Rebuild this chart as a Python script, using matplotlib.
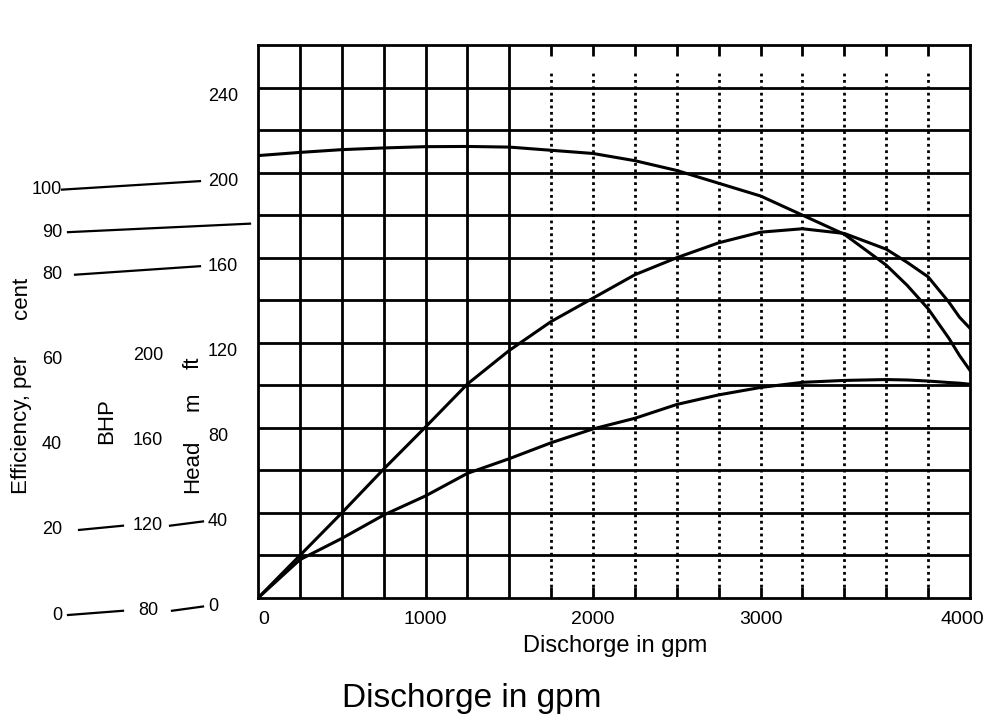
import numpy as np
import matplotlib
matplotlib.use('Agg')
import matplotlib.pyplot as plt
from matplotlib import transforms

plt.rcParams['font.family'] = ['Liberation Sans', 'DejaVu Sans']

# values (discharge in gpm)
flow = [0, 250, 500, 750, 1000, 1250, 1500, 1750, 2000, 2250, 2500, 2750,
        3000, 3200, 3400, 3600, 3700, 3800, 3900, 3950, 4000]
head_ft = [208, 209.5, 210.8, 211.6, 212.2, 212.3, 212, 210.5, 209, 205.6, 201, 195,
           189, 180, 171, 156.5, 147, 136, 122, 114, 107]
eff_pct = [0, 10, 20, 30.3, 40.2, 50.3, 58.2, 65, 70.5, 76, 80, 83.5,
           86, 86.8, 85.7, 82, 78.9, 75.5, 69.5, 66, 63.4]
bhp = [80, 98, 108, 119, 128, 138.6, 145.5, 153, 159.5, 164.5, 171, 175.5,
       179, 181.4, 182.3, 182.7, 182.5, 182, 181.3, 181, 180.5]

# scale labels on the left
eff_ticks = [0, 20, 40, 60, 80, 90, 100]
bhp_ticks = [80, 120, 160, 200]
head_ticks = [0, 40, 80, 120, 160, 200, 240]
x_ticks = [0, 1000, 2000, 3000, 4000]

# chart paper
grid_solid = [250, 500, 750, 1000, 1250, 1500]
grid_dotted = [1750, 2000, 2250, 2500, 2750, 3000, 3200, 3400, 3600, 3800]
grid_rows = list(range(20, 260, 20))

W, H = 987, 720


def eff_to_ft(e):
    return np.asarray(e, float) * 2.0


def bhp_to_ft(b):
    return np.asarray(b, float) - 80.0


# last 1000 gpm of the paper is ruled in 200 gpm columns
def fwd(x):
    x = np.asarray(x, float)
    return np.where(x <= 3000, x, 3000 + (x - 3000) * 1.25)


def inv(y):
    y = np.asarray(y, float)
    return np.where(y <= 3000, y, 3000 + (y - 3000) / 1.25)


fig = plt.figure(figsize=(W / 100, H / 100), dpi=100)
ax = fig.add_axes([258 / W, 1 - 598 / H, (970 - 258) / W, (598 - 45) / H])
ax.set_xscale('function', functions=(fwd, inv))
ax.set_xlim(0, 4000)
ax.set_ylim(0, 260)

lw = 2.0
for s in ax.spines.values():
    s.set_linewidth(lw)

ax.hlines(grid_rows, 0, 4000, colors='black', lw=lw)
ax.vlines(grid_solid, 0, 260, colors='black', lw=lw)
ax.vlines(grid_dotted, 5, 248, colors='black', lw=lw, linestyles=(0, (1, 1.3)))

ax.plot(flow, head_ft, color='black', lw=2.2)
ax.plot(flow, eff_to_ft(eff_pct), color='black', lw=2.2)
ax.plot(flow, bhp_to_ft(bhp), color='black', lw=2.2)

ax.set_yticks([])
ax.set_xticks(x_ticks)
ax.set_xticklabels([str(v) for v in x_ticks], fontsize=14)
ax.xaxis.set_minor_locator(matplotlib.ticker.FixedLocator(grid_dotted))
ax.xaxis.remove_overlapping_locs = False
ax.tick_params(axis='x', which='major', length=0, pad=9)
ax.tick_params(axis='x', which='minor', direction='in', length=8, width=lw,
               top=True, bottom=True)
labels = ax.get_xticklabels()
labels[0].set_horizontalalignment('left')
labels[-1].set_transform(labels[-1].get_transform() +
                         transforms.ScaledTranslation(-0.08, 0, fig.dpi_scale_trans))

# left hand scales
tr = transforms.blended_transform_factory(fig.transFigure, ax.transData)
eff_y = {e: eff_to_ft(e) - 8 for e in eff_ticks}
bhp_y = {b: bhp_to_ft(b) - 6 for b in bhp_ticks}
head_y = {h: h - 4 for h in head_ticks}

for e in eff_ticks:
    ax.text(62 / W, eff_y[e], str(e), transform=tr, ha='right', va='center',
            fontsize=13, clip_on=False)
for b in bhp_ticks:
    ax.text(148 / W, bhp_y[b], str(b), transform=tr, ha='center', va='center',
            fontsize=13, clip_on=False)
for h in head_ticks:
    ax.text(208 / W, head_y[h], str(h), transform=tr, ha='left', va='center',
            fontsize=13, clip_on=False)


def link(x0, y0, x1, y1):
    ax.plot([x0 / W, x1 / W], [y0, y1], color='black', lw=1.6,
            transform=tr, clip_on=False)


link(68, eff_y[0], 123, bhp_y[80])
link(172, bhp_y[80], 203, head_y[0])
link(79, eff_y[20], 123, bhp_y[120])
link(170, bhp_y[120], 203, head_y[40])
link(75, eff_y[80], 200, head_y[160])
link(68, eff_y[90], 250, eff_to_ft(90) - 4)
link(62, eff_y[100], 200, head_y[200])

fig.text(22 / W, 1 - 425 / H, 'Efficiency, per', rotation=90, ha='center',
         va='center', fontsize=16)
fig.text(22 / W, 1 - 298 / H, 'cent', rotation=90, ha='center', va='center',
         fontsize=16)
fig.text(107 / W, 1 - 421 / H, 'BHP', rotation=90, ha='center', va='center',
         fontsize=16)
fig.text(193 / W, 1 - 466 / H, 'Head', rotation=90, ha='center', va='center',
         fontsize=16)
fig.text(193 / W, 1 - 402 / H, 'm', rotation=90, ha='center', va='center',
         fontsize=16)
fig.text(193 / W, 1 - 363 / H, 'ft', rotation=90, ha='center', va='center',
         fontsize=16)

fig.text(615 / W, 1 - 646 / H, 'Dischorge in gpm', ha='center', va='center',
         fontsize=17)
fig.text(472 / W, 1 - 698 / H, 'Dischorge in gpm', ha='center', va='center',
         fontsize=24)

fig.savefig('out.png', dpi=100, facecolor='white')
